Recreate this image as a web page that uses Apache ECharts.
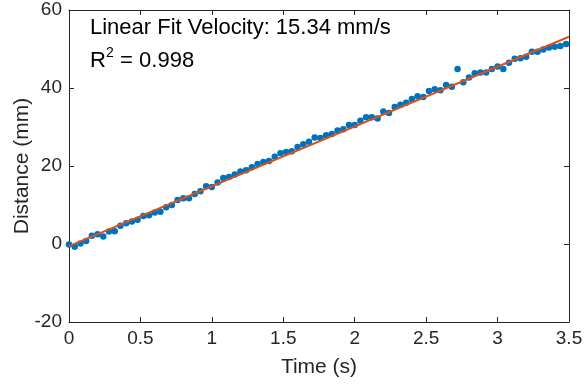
<!DOCTYPE html>
<html>
<head>
<meta charset="utf-8">
<script src="https://cdn.jsdelivr.net/npm/echarts@6/dist/echarts.min.js"></script>
<style>
html,body{margin:0;padding:0;background:#fff;}
#chart{width:584px;height:385px;}
</style>
</head>
<body>
<div id="chart"></div>
<script>
// Data
var timeValues = [0,0.04,0.08,0.12,0.16,0.20,0.24,0.28,0.32,0.36,0.40,0.44,0.48,0.52,0.56,0.60,0.64,0.68,0.72,0.76,0.80,0.84,0.88,0.92,0.96,1.00,1.04,1.08,1.12,1.16,1.20,1.24,1.28,1.32,1.36,1.40,1.44,1.48,1.52,1.56,1.60,1.64,1.68,1.72,1.76,1.80,1.84,1.88,1.92,1.96,2.00,2.04,2.08,2.12,2.16,2.20,2.24,2.28,2.32,2.36,2.40,2.44,2.48,2.52,2.56,2.60,2.64,2.68,2.72,2.76,2.80,2.84,2.88,2.92,2.96,3.00,3.04,3.08,3.12,3.16,3.20,3.24,3.28,3.32,3.36,3.40,3.44,3.48];
var distanceValues = [-0.1,-0.7,0.1,0.8,2.1,2.5,1.9,3.2,3.3,4.7,5.3,5.8,6.2,7.2,7.4,8.1,8.3,9.4,10.0,11.3,11.7,11.7,12.8,13.5,14.8,14.6,15.8,16.9,17.2,17.8,18.6,18.9,19.7,20.5,21.0,21.3,22.4,23.3,23.6,23.8,24.9,25.6,26.2,27.3,27.2,27.9,28.2,29.1,29.4,30.5,30.5,31.6,32.5,32.5,32.2,34.0,33.6,35.1,35.7,36.2,37.2,37.9,37.7,39.2,39.7,39.4,40.8,40.3,44.9,41.5,42.7,43.8,44.0,44.0,44.9,45.5,44.9,46.5,47.5,47.6,48.0,49.3,49.3,49.9,50.4,50.6,50.8,51.3];
var fitSlope = 15.34;
var fitIntercept = -0.55;
var fitTimes = [0, 3.5];
var xTicks = [0, 0.5, 1, 1.5, 2, 2.5, 3, 3.5];
var yTicks = [-20, 0, 20, 40, 60];
var annotationLine1 = 'Linear Fit Velocity: 15.34 mm/s';
var r2Text = '0.998';

var scatterData = timeValues.map(function(t, i){ return [t, distanceValues[i]]; });
var fitData = fitTimes.map(function(t){ return [t, fitSlope * t + fitIntercept]; });

var axisColor = '#262626';
var fontFam = '"Liberation Sans", Arial, Helvetica, sans-serif';

function baseAxis(extra){
  var o = {
    type: 'value',
    axisLine: {show: true, onZero: false, lineStyle: {color: axisColor, width: 1}},
    axisTick: {show: true, inside: true, length: 5, lineStyle: {color: axisColor, width: 1}},
    splitLine: {show: false},
    axisLabel: {color: axisColor, fontSize: 19, fontFamily: fontFam}
  };
  for (var k in extra) o[k] = extra[k];
  return o;
}

var chart = echarts.init(document.getElementById('chart'), null, {renderer: 'canvas'});
chart.setOption({
  animation: false,
  backgroundColor: '#ffffff',
  grid: {left: 69, right: 15, top: 10, bottom: 63, containLabel: false, outerBoundsMode: 'none'},
  xAxis: [
    baseAxis({min: xTicks[0], max: xTicks[xTicks.length-1], interval: 0.5, position: 'bottom',
      name: 'Time (s)', nameLocation: 'middle', nameGap: 35,
      nameTextStyle: {color: axisColor, fontSize: 21, fontFamily: fontFam},
      axisLabel: {color: axisColor, fontSize: 19, fontFamily: fontFam, margin: 7,
        formatter: function(v){ return String(v); }}}),
    baseAxis({min: xTicks[0], max: xTicks[xTicks.length-1], interval: 0.5, position: 'top',
      axisLabel: {show: false}})
  ],
  yAxis: [
    baseAxis({min: yTicks[0], max: yTicks[yTicks.length-1], interval: 20, position: 'left',
      name: 'Distance (mm)', nameLocation: 'middle', nameGap: 36, nameMoveOverlap: false,
      nameTextStyle: {color: axisColor, fontSize: 21, fontFamily: fontFam},
      axisLabel: {color: axisColor, fontSize: 19, fontFamily: fontFam, margin: 7}}),
    baseAxis({min: yTicks[0], max: yTicks[yTicks.length-1], interval: 20, position: 'right',
      axisLabel: {show: false}})
  ],
  series: [
    {
      type: 'scatter',
      xAxisIndex: 0, yAxisIndex: 0,
      data: scatterData,
      symbol: 'circle',
      symbolSize: 6.5,
      itemStyle: {color: '#0072BD', opacity: 1},
      z: 2
    },
    {
      type: 'line',
      xAxisIndex: 0, yAxisIndex: 0,
      data: fitData,
      showSymbol: false,
      symbol: 'none',
      lineStyle: {color: '#D95319', width: 2},
      z: 3
    }
  ],
  graphic: [
    {type: 'text', left: 90, top: 17, style: {text: annotationLine1, fill: '#000', font: '22px ' + fontFam}},
    {type: 'text', left: 90, top: 50, style: {text: 'R', fill: '#000', font: '22px ' + fontFam}},
    {type: 'text', left: 106, top: 46, style: {text: '2', fill: '#000', font: '14px ' + fontFam}},
    {type: 'text', left: 114, top: 50, style: {text: ' = ' + r2Text, fill: '#000', font: '22px ' + fontFam}}
  ]
});
</script>
</body>
</html>
